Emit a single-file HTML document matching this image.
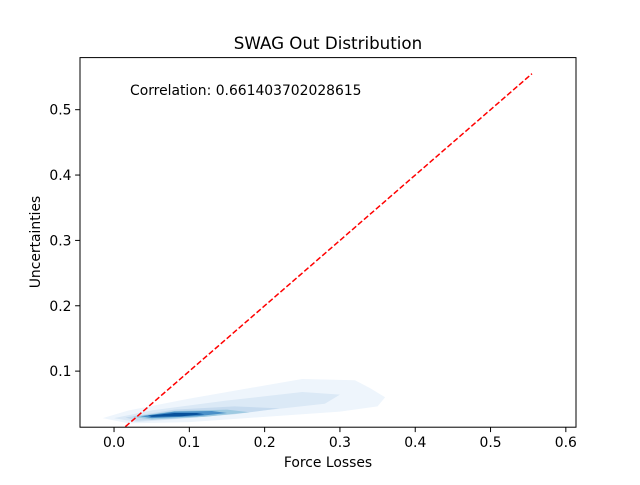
<!DOCTYPE html>
<html><head><meta charset="utf-8"><style>
body{margin:0;background:#fff;}
svg text{font-family:"DejaVu Sans","Liberation Sans",sans-serif;}
</style></head><body>
<svg id="chart" width="640" height="480" xmlns="http://www.w3.org/2000/svg">
<rect width="640" height="480" fill="#fff"/>
<g id="kde"></g>
<g id="line"></g>
<rect x="80" y="57.6" width="496" height="369.6" fill="none" stroke="#000" stroke-width="1"/>
<g id="xt"></g>
<g id="yt"></g>
<text x="328" y="49" font-size="16.7" text-anchor="middle">SWAG Out Distribution</text>
<text x="328" y="467" font-size="13.9" text-anchor="middle">Force Losses</text>
<text transform="translate(40,242) rotate(-90)" font-size="13.9" text-anchor="middle">Uncertainties</text>
<text x="130" y="95" font-size="13.9">Correlation: 0.661403702028615</text>
</svg>
<script>
const xTicks=[0.0,0.1,0.2,0.3,0.4,0.5,0.6];
const yTicks=[0.1,0.2,0.3,0.4,0.5];
const lineStart=[0.015,0.015];
const lineEnd=[0.555,0.555];
const levelColors=["#eef5fc","#dbe9f6","#c6dbef","#9ecae1","#4a90c8","#08519c"];
const level1=[[-0.015,0.028],[0.02,0.04],[0.1,0.058],[0.2,0.078],[0.25,0.088],[0.32,0.086],[0.34,0.074],[0.36,0.06],[0.35,0.046],[0.3,0.038],[0.2,0.03],[0.1,0.022],[0.02,0.02]];
const level2=[[0.0,0.028],[0.05,0.04],[0.15,0.055],[0.25,0.068],[0.3,0.064],[0.28,0.05],[0.2,0.04],[0.1,0.028],[0.03,0.022]];
const level3=[[0.015,0.029],[0.08,0.041],[0.16,0.046],[0.22,0.043],[0.16,0.034],[0.08,0.027],[0.03,0.024]];
const level4=[[0.025,0.03],[0.08,0.039],[0.15,0.041],[0.18,0.037],[0.12,0.03],[0.05,0.026]];
const level5=[[0.035,0.031],[0.08,0.038],[0.13,0.039],[0.15,0.036],[0.11,0.031],[0.05,0.028]];
const level6=[[0.045,0.032],[0.08,0.036],[0.11,0.036],[0.12,0.034],[0.09,0.031],[0.05,0.03]];
const levels=[level1,level2,level3,level4,level5,level6];
const X0=80,X1=576,Y0=427.2,Y1=57.6,xmin=-0.0452,xmax=0.6135,ymin=0.0142,ymax=0.5797;
const sx=v=>X0+(v-xmin)/(xmax-xmin)*(X1-X0);
const sy=v=>Y0-(v-ymin)/(ymax-ymin)*(Y0-Y1);
const NS="http://www.w3.org/2000/svg";
function mk(t,a,p){const e=document.createElementNS(NS,t);for(const k in a)e.setAttribute(k,a[k]);p.appendChild(e);return e;}
const kde=document.getElementById('kde');
levels.forEach((lv,i)=>{
 const pts=lv.map(p=>sx(p[0])+','+sy(p[1])).join(' ');
 const e=mk('polygon',{points:pts,fill:levelColors[i],stroke:'none'},kde);
 
 
});
const lg=document.getElementById('line');
const ln=mk('line',{x1:sx(lineStart[0]),y1:sy(lineStart[1]),x2:sx(lineEnd[0]),y2:sy(lineEnd[1]),stroke:'#f00','stroke-width':1.5,'stroke-dasharray':'5.5,2.4'},lg);


const xt=document.getElementById('xt');
xTicks.forEach(v=>{
 const x=sx(v);
 mk('line',{x1:x,y1:Y0,x2:x,y2:Y0+4.9,stroke:'#000'},xt);
 const t=mk('text',{x:x,y:Y0+20,'font-size':13.9,'text-anchor':'middle'},xt);
 t.textContent=v.toFixed(1);
 
 
});
const yt=document.getElementById('yt');
yTicks.forEach(v=>{
 const y=sy(v);
 mk('line',{x1:X0-4.9,y1:y,x2:X0,y2:y,stroke:'#000'},yt);
 const t=mk('text',{x:X0-8.5,y:y+5,'font-size':13.9,'text-anchor':'end'},yt);
 t.textContent=v.toFixed(1);
 
 
});
</script>
</body></html>
